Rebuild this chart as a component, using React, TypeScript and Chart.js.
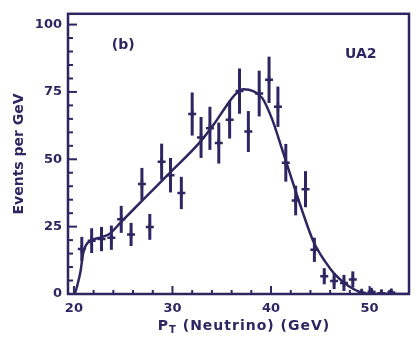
import React, { useEffect, useRef } from 'react';
import { Chart, registerables } from 'chart.js';

Chart.register(...registerables);

// Measured data points (transverse momentum of neutrino, GeV)
const ptValues = [20.8, 21.8, 22.8, 23.8, 24.8, 25.8, 26.9, 27.7, 28.9, 29.8, 30.9, 32.0, 32.9, 33.8, 34.7, 35.8, 36.8, 37.7, 38.8, 39.8, 40.7, 41.5, 42.5, 43.5, 44.4, 45.4, 46.4, 47.4, 48.3, 49.2, 50.2, 51.2, 52.2];
const eventsPerGeV = [16.7, 19.8, 20.4, 20.9, 27.7, 22.1, 40.8, 24.9, 49.1, 44.1, 37.5, 66.8, 58.1, 61.5, 56.0, 64.7, 75.3, 60.3, 74.4, 79.5, 69.5, 48.7, 34.7, 38.9, 16.4, 6.6, 4.8, 4.1, 5.4, 0.5, 0.8, 0.3, 0.6];
const eventErrors = [4.5, 4.6, 4.5, 4.5, 5.0, 4.3, 6.0, 4.8, 6.7, 6.4, 6.0, 8.0, 7.6, 8.0, 7.6, 7.0, 8.4, 7.6, 8.5, 8.6, 7.5, 7.0, 5.5, 6.7, 4.5, 3.0, 3.0, 3.0, 3.0, 1.2, 1.2, 1.2, 1.2];

// Fitted curve
const fitPt = [20.1, 20.4, 20.7, 20.9, 21.2, 21.8, 22.7, 23.6, 24.8, 27.0, 29.7, 32.7, 34.2, 35.5, 36.4, 37.2, 38.2, 39.1, 40.1, 41.1, 42.2, 43.2, 44.3, 45.5, 46.5, 47.9, 49.2, 50.5, 54.0];
const fitEvents = [0, 4, 9, 14.5, 18, 20, 21, 22.3, 26.8, 34.9, 44.9, 56, 63, 70, 74.2, 76, 75.3, 72.8, 65, 54, 41.5, 30.5, 19.5, 12, 7.2, 2.9, 0.5, 0, 0];

const xMajorTicks = [20, 30, 40, 50];
const yMajorTicks = [0, 25, 50, 75, 100];

const INK = '#2e2660';
const FONT = '"DejaVu Sans", sans-serif';

const decorPlugin = {
  id: 'decor',
  afterDatasetsDraw(chart: any) {
    const { ctx, chartArea: a, scales } = chart;
    const x = scales.x;
    const y = scales.y;
    ctx.save();
    ctx.strokeStyle = INK;
    ctx.lineCap = 'butt';
    // error bars
    ctx.lineWidth = 3;
    ptValues.forEach((p, i) => {
      const px = x.getPixelForValue(p);
      const lo = Math.max(0, eventsPerGeV[i] - eventErrors[i]);
      const hi = eventsPerGeV[i] + eventErrors[i];
      ctx.beginPath();
      ctx.moveTo(px, y.getPixelForValue(lo));
      ctx.lineTo(px, y.getPixelForValue(hi));
      ctx.stroke();
    });
    // frame
    ctx.lineWidth = 2.5;
    ctx.strokeRect(a.left, a.top, a.right - a.left, a.bottom - a.top);
    // inward ticks
    ctx.lineWidth = 2;
    y.ticks.forEach((t: any) => {
      const py = y.getPixelForValue(t.value);
      const len = yMajorTicks.includes(t.value) ? 9 : 5;
      ctx.beginPath();
      ctx.moveTo(a.left, py);
      ctx.lineTo(a.left + len, py);
      ctx.stroke();
    });
    x.ticks.forEach((t: any) => {
      const px = x.getPixelForValue(t.value);
      const len = xMajorTicks.includes(t.value) ? 8 : 4;
      ctx.beginPath();
      ctx.moveTo(px, a.bottom);
      ctx.lineTo(px, a.bottom - len);
      ctx.stroke();
    });
    // annotations
    ctx.fillStyle = INK;
    ctx.font = `bold 14px ${FONT}`;
    ctx.textAlign = 'center';
    ctx.textBaseline = 'middle';
    ctx.fillText('(b)', x.getPixelForValue(25.0), y.getPixelForValue(92.3));
    ctx.fillText('UA2', x.getPixelForValue(49.1), y.getPixelForValue(89));
    // x axis title with subscript
    const main = 'P';
    const sub = 'T';
    const rest = ' (Neutrino) (GeV)';
    ctx.textAlign = 'left';
    ctx.textBaseline = 'alphabetic';
    try {
      (ctx as any).letterSpacing = '1px';
    } catch (e) {}
    ctx.font = `bold 14px ${FONT}`;
    const wMain = ctx.measureText(main).width;
    const wRest = ctx.measureText(rest).width;
    ctx.font = `bold 10px ${FONT}`;
    const wSub = ctx.measureText(sub).width;
    let cx = 244 - (wMain + wSub + wRest) / 2;
    const base = 330;
    ctx.font = `bold 14px ${FONT}`;
    ctx.fillText(main, cx, base);
    cx += wMain;
    ctx.font = `bold 10px ${FONT}`;
    ctx.fillText(sub, cx, base + 3);
    cx += wSub;
    ctx.font = `bold 14px ${FONT}`;
    ctx.fillText(rest, cx, base);
    ctx.restore();
  },
};

export default function App() {
  const canvasRef = useRef<HTMLCanvasElement | null>(null);

  useEffect(() => {
    document.body.style.margin = '0';
    const canvas = canvasRef.current;
    if (!canvas) return;
    const chart = new Chart(canvas, {
      type: 'scatter',
      data: {
        datasets: [
          {
            type: 'line',
            label: 'fit',
            data: fitPt.map((p, i) => ({ x: p, y: fitEvents[i] })),
            borderColor: INK,
            borderWidth: 2.5,
            pointRadius: 0,
            fill: false,
            cubicInterpolationMode: 'monotone',
          } as any,
          {
            type: 'scatter',
            label: 'data',
            data: ptValues.map((p, i) => ({ x: p, y: eventsPerGeV[i] })),
            pointStyle: 'cross',
            pointRadius: 4,
            borderWidth: 2.5,
            borderColor: INK,
            backgroundColor: INK,
          } as any,
        ],
      },
      options: {
        responsive: false,
        animation: false,
        devicePixelRatio: 1,
        layout: { padding: { top: 10, right: 9, left: 0, bottom: 0 } },
        plugins: {
          legend: { display: false },
          tooltip: { enabled: false },
        },
        scales: {
          x: {
            type: 'linear',
            min: 19.4,
            max: 54,
            grid: { display: false, drawTicks: false },
            border: { display: false },
            afterBuildTicks: (s: any) => {
              const t = [];
              for (let v = 20; v <= 54; v += 2) t.push({ value: v });
              s.ticks = t;
            },
            afterFit: (s: any) => {
              s.height = 46;
            },
            ticks: {
              autoSkip: false,
              maxRotation: 0,
              padding: 7,
              color: INK,
              font: { family: FONT, size: 13, weight: 'bold' },
              callback: (v: any) => (xMajorTicks.includes(Number(v)) ? String(v) : ''),
            },
          },
          y: {
            type: 'linear',
            min: 0,
            max: 104,
            grid: { display: false, drawTicks: false },
            border: { display: false },
            afterBuildTicks: (s: any) => {
              const t = [];
              for (let v = 0; v <= 100; v += 5) t.push({ value: v });
              s.ticks = t;
            },
            afterFit: (s: any) => {
              s.width = 68;
            },
            ticks: {
              autoSkip: false,
              padding: 6,
              color: INK,
              font: { family: FONT, size: 13, weight: 'bold' },
              callback: (v: any) => (yMajorTicks.includes(Number(v)) ? String(v) : ''),
            },
            title: {
              display: true,
              text: 'Events per GeV',
              color: INK,
              font: { family: FONT, size: 14, weight: 'bold' },
              padding: { top: 11, bottom: 0 },
            },
          },
        },
      },
      plugins: [decorPlugin],
    });
    return () => chart.destroy();
  }, []);

  return (
    <div style={{ width: 418, height: 340, background: '#ffffff' }}>
      <canvas ref={canvasRef} width={418} height={340} />
    </div>
  );
}
